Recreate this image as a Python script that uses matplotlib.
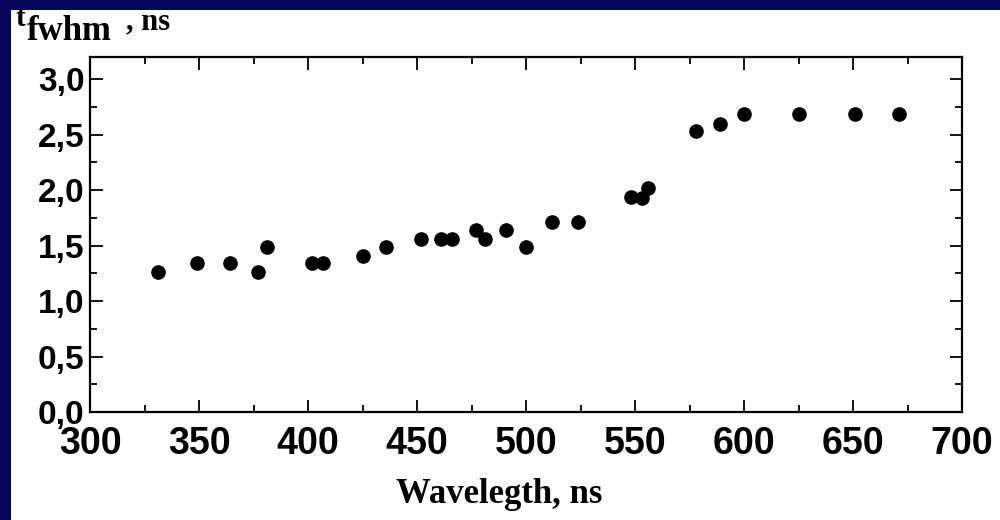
import matplotlib.pyplot as plt
from matplotlib.ticker import MultipleLocator
from matplotlib.patches import Rectangle

# data
wavelength = [331, 349, 364, 377, 381, 402, 407, 425, 436, 452, 461, 466, 477, 481,
              491, 500, 512, 524, 548, 553, 556, 578, 589, 600, 625, 651, 671]
t_fwhm = [1.26, 1.34, 1.34, 1.26, 1.49, 1.34, 1.34, 1.41, 1.49, 1.56, 1.56, 1.56, 1.64, 1.56,
          1.64, 1.49, 1.71, 1.71, 1.94, 1.93, 2.02, 2.53, 2.60, 2.69, 2.69, 2.69, 2.69]

navy = '#06065c'
fig = plt.figure(figsize=(10, 5.2), dpi=100, facecolor=navy)
# white sheet, navy frame left and top only
fig.patches.append(Rectangle((11 / 1000, -0.05), 1.1, 1 + 0.05 - 10 / 520,
                             transform=fig.transFigure, facecolor='white',
                             edgecolor='none', zorder=-1))

ax = fig.add_axes([0.09, 0.2077, 0.872, 0.6827])
ax.plot(wavelength, t_fwhm, 'o', color='black', markersize=9.5, linestyle='none')

ax.set_xlim(300, 700)
ax.set_ylim(0, 3.2)
ax.xaxis.set_major_locator(MultipleLocator(50))
ax.xaxis.set_minor_locator(MultipleLocator(25))
ax.yaxis.set_major_locator(MultipleLocator(0.5))
ax.yaxis.set_minor_locator(MultipleLocator(0.25))
ax.yaxis.set_major_formatter(plt.FuncFormatter(lambda v, p: f'{v:.1f}'.replace('.', ',')))

ax.tick_params(which='both', direction='in', top=True, right=True, width=1.3, colors='black')
ax.tick_params(which='major', length=9)
ax.tick_params(which='minor', length=5)
ax.tick_params(axis='x', which='major', pad=10)
ax.tick_params(axis='y', which='major', pad=4)
for lab in ax.get_xticklabels():
    lab.set_fontfamily('Liberation Sans')
    lab.set_fontweight('bold')
    lab.set_fontsize(27)
for lab in ax.get_yticklabels():
    lab.set_fontfamily('Liberation Sans')
    lab.set_fontweight('bold')
    lab.set_fontsize(24)
for sp in ax.spines.values():
    sp.set_linewidth(1.6)

# axis titles
fig.text(0.499, 1 - 503 / 520, 'Wavelegth, ns', ha='center', va='baseline',
         family='Liberation Serif', weight='bold', fontsize=25)
fig.text(15 / 1000, 1 - 26 / 520, 't', ha='left', va='baseline',
         family='Liberation Serif', weight='bold', fontsize=21)
fig.text(27 / 1000, 1 - 40 / 520, 'fwhm', ha='left', va='baseline',
         family='Liberation Serif', weight='bold', fontsize=25)
fig.text(126 / 1000, 1 - 29 / 520, ', ns', ha='left', va='baseline',
         family='Liberation Serif', weight='bold', fontsize=22)

fig.savefig('out.png', dpi=100, facecolor=navy)
